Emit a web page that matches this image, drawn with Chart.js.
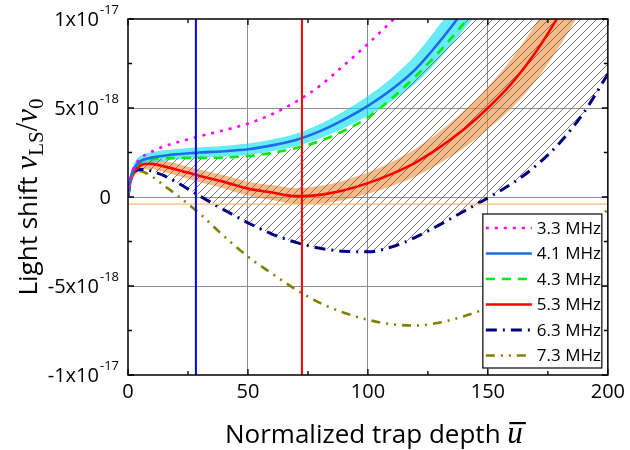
<!DOCTYPE html>
<html>
<head>
<meta charset="utf-8">
<script src="https://cdn.jsdelivr.net/npm/chart.js@4.4.1/dist/chart.umd.min.js"></script>
<style>
  html, body { margin: 0; padding: 0; background: #fff; }
</style>
</head>
<body>
<canvas id="lsChart" width="630" height="450"></canvas>
<script>
// trap depth (u bar) and light shift values in units of 1e-18
const depth   = [0, 1, 2, 3, 5, 7, 10, 15, 20, 30, 40, 50, 60, 70, 80, 90, 100, 110, 120, 130, 140, 150, 160, 170, 180, 190, 200];
const shift33 = [0, 1.0, 1.5, 1.8, 2.15, 2.35, 2.55, 2.85, 3.05, 3.42, 3.75, 4.12, 4.65, 5.35, 6.25, 7.4, 8.6, 9.9, 11.3, null, null, null, null, null, null, null, null];
const shift41 = [0, 1.0, 1.45, 1.7, 2.0, 2.12, 2.22, 2.32, 2.4, 2.5, 2.57, 2.68, 2.9, 3.2, 3.7, 4.35, 5.12, 6.05, 7.2, 8.75, 10.5, 12.4, null, null, null, null, null];
const shift43 = [0, 0.95, 1.4, 1.65, 1.95, 2.05, 2.12, 2.18, 2.2, 2.2, 2.22, 2.3, 2.48, 2.75, 3.15, 3.72, 4.47, 5.55, 6.8, 8.2, 9.75, 11.4, 13.2, 15.1, 17.1, 19.2, 21.4];
const shift53 = [0, 0.85, 1.25, 1.5, 1.75, 1.85, 1.86, 1.72, 1.55, 1.18, 0.85, 0.47, 0.25, 0.05, 0.12, 0.38, 0.78, 1.3, 1.95, 2.8, 3.8, 5.0, 6.4, 8.15, 10.3, 12.8, 15.6];
const shift63 = [0, 0.9, 1.3, 1.45, 1.55, 1.55, 1.45, 1.2, 0.85, 0.05, -0.72, -1.45, -2.08, -2.55, -2.88, -3.05, -3.08, -2.8, -2.25, -1.55, -0.8, -0.05, 0.75, 1.75, 3.05, 4.75, 6.9];
const shift73 = [0, 0.9, 1.25, 1.4, 1.45, 1.38, 1.15, 0.65, 0.15, -0.95, -2.2, -3.35, -4.3, -5.2, -5.95, -6.5, -6.9, -7.15, -7.22, -7.05, -6.7, -6.2, -5.4, -4.4, -3.2, -2.0, -0.7];
// half widths of the uncertainty bands
const band41 = [0.2, 0.25, 0.28, 0.3, 0.3, 0.3, 0.3, 0.3, 0.3, 0.3, 0.3, 0.32, 0.33, 0.35, 0.4, 0.47, 0.55, 0.65, 0.8, 0.95, 1.1, 1.3, null, null, null, null, null];
const band53 = [0.15, 0.2, 0.22, 0.25, 0.28, 0.3, 0.3, 0.32, 0.33, 0.35, 0.37, 0.39, 0.42, 0.45, 0.5, 0.55, 0.6, 0.68, 0.78, 0.9, 1.05, 1.2, 1.4, 1.6, 1.8, 2.0, 2.2];

const seriesLabels = ['3.3 MHz', '4.1 MHz', '4.3 MHz', '5.3 MHz', '6.3 MHz', '7.3 MHz'];
const magicDepths = [28.3, 72.5];
const offsetShift = -0.4;
const xTickVals = [0, 50, 100, 150, 200];
const yTickVals = [-10, -5, 0, 5, 10];
const yTickBase = ['-1x10', '-5x10', '0', '5x10', '1x10'];
const yTickExp  = ['-17', '-18', '', '-18', '-17'];

const pts = arr => depth.map((u, i) => ({ x: u, y: arr[i] }));
const plus = (arr, hw) => arr.map((v, i) => v == null ? null : v + hw[i]);
const minus = (arr, hw) => arr.map((v, i) => v == null ? null : v - hw[i]);

function hatch() {
    const c = document.createElement('canvas');
    c.width = 8; c.height = 8;
    const g = c.getContext('2d');
    g.strokeStyle = '#6a6a6a';
    g.lineWidth = 0.9;
    g.beginPath();
    g.moveTo(0, 8); g.lineTo(8, 0);
    g.moveTo(-2, 2); g.lineTo(2, -2);
    g.moveTo(6, 10); g.lineTo(10, 6);
    g.stroke();
    return g.createPattern(c, 'repeat');
}

const SANS = '"Open Sans", "DejaVu Sans", sans-serif';
const SERIF = '"Liberation Serif", "DejaVu Serif", serif';

const base = { pointRadius: 0, fill: false, cubicInterpolationMode: 'monotone', borderJoinStyle: 'round' };

const datasets = [
    { ...base, label: 'band41hi', data: pts(plus(shift41, band41)), borderWidth: 0, fill: 1, backgroundColor: 'rgba(0, 222, 242, 0.6)', order: 20 },
    { ...base, label: 'band41lo', data: pts(minus(shift41, band41)), borderWidth: 0, order: 20 },
    { ...base, label: 'band53hi', data: pts(plus(shift53, band53)), borderWidth: 0, fill: 3, backgroundColor: 'rgba(244, 140, 50, 0.6)', order: 20 },
    { ...base, label: 'band53lo', data: pts(minus(shift53, band53)), borderWidth: 0, order: 20 },
    { ...base, label: seriesLabels[0], data: pts(shift33), borderColor: '#ff00ff', borderWidth: 2.6, borderDash: [3, 6], order: 2 },
    { ...base, label: seriesLabels[1], data: pts(shift41), borderColor: '#1c6ce8', borderWidth: 2.6, order: 2 },
    { ...base, label: seriesLabels[2], data: pts(shift43), borderColor: '#00ee00', borderWidth: 2.6, borderDash: [9, 7], fill: 8, backgroundColor: hatch(), order: 2 },
    { ...base, label: seriesLabels[3], data: pts(shift53), borderColor: '#ff0000', borderWidth: 2.6, order: 2 },
    { ...base, label: seriesLabels[4], data: pts(shift63), borderColor: '#00007f', borderWidth: 3, borderDash: [11, 6, 2, 6], order: 2 },
    { ...base, label: seriesLabels[5], data: pts(shift73), borderColor: '#808000', borderWidth: 2.6, borderDash: [9, 6, 2, 6, 2, 6], order: 2 },
    { ...base, label: 'magic41', data: [{ x: magicDepths[0], y: -10 }, { x: magicDepths[0], y: 10 }], borderColor: '#0000ff', borderWidth: 2, order: 1 },
    { ...base, label: 'magic53', data: [{ x: magicDepths[1], y: -10 }, { x: magicDepths[1], y: 10 }], borderColor: '#ff0000', borderWidth: 2, order: 1 },
    { ...base, label: 'offset', data: [{ x: 0, y: offsetShift }, { x: 200, y: offsetShift }], borderColor: '#ffb870', borderWidth: 1.2, order: 1 }
];

function drawRuns(ctx, runs, x, y) {
    for (const r of runs) {
        ctx.font = r.font;
        const w = ctx.measureText(r.text).width;
        ctx.fillText(r.text, x, y + (r.dy || 0));
        if (r.over) {
            ctx.fillRect(x + 2, y - 21, w + 1, 2.2);
        }
        x += w;
    }
    return x;
}
function runsWidth(ctx, runs) {
    let w = 0;
    for (const r of runs) { ctx.font = r.font; w += ctx.measureText(r.text).width; }
    return w;
}

const frameAndText = {
    id: 'frameAndText',
    afterDatasetsDraw(chart) {
        const { ctx, chartArea: a, scales } = chart;
        const xs = scales.x, ys = scales.y;
        ctx.save();
        ctx.strokeStyle = '#000';
        ctx.lineWidth = 1.5;
        ctx.strokeRect(a.left, a.top, a.right - a.left, a.bottom - a.top);
        ctx.lineWidth = 1.3;
        ctx.beginPath();
        for (let v = 0; v <= 200; v += 25) {
            const px = xs.getPixelForValue(v);
            const len = v % 50 === 0 ? 6 : 4;
            ctx.moveTo(px, a.bottom); ctx.lineTo(px, a.bottom - len);
            ctx.moveTo(px, a.top); ctx.lineTo(px, a.top + len);
        }
        for (let v = -10; v <= 10; v += 2.5) {
            const py = ys.getPixelForValue(v);
            const len = v % 5 === 0 ? 6 : 4;
            ctx.moveTo(a.left, py); ctx.lineTo(a.left + len, py);
            ctx.moveTo(a.right, py); ctx.lineTo(a.right - len, py);
        }
        ctx.stroke();
        ctx.restore();
    },
    afterDraw(chart) {
        const { ctx, chartArea: a, scales } = chart;
        ctx.save();
        ctx.fillStyle = '#000';
        // y tick labels with exponents
        ctx.textBaseline = 'middle';
        yTickVals.forEach((v, i) => {
            const py = scales.y.getPixelForValue(v);
            let right = a.left - 9;
            if (yTickExp[i]) {
                ctx.font = '13px ' + SANS;
                const ew = ctx.measureText(yTickExp[i]).width;
                ctx.textAlign = 'left';
                ctx.fillText(yTickExp[i], right - ew, py - 9);
                right -= ew + 1;
            } else {
                right = a.left - 17;
            }
            ctx.font = '20px ' + SANS;
            ctx.textAlign = 'right';
            ctx.fillText(yTickBase[i], right, py + 1);
        });
        // axis titles
        ctx.textAlign = 'left';
        ctx.textBaseline = 'alphabetic';
        const xRuns = [
            { text: 'Normalized trap depth ', font: '26px ' + SANS },
            { text: 'u', font: 'italic 31px ' + SERIF, over: true }
        ];
        const xw = runsWidth(ctx, xRuns);
        drawRuns(ctx, xRuns, (a.left + a.right) / 2 + 6 - xw / 2, 443);
        const yRuns = [
            { text: 'Light shift ', font: '26px ' + SANS },
            { text: 'ν', font: 'italic 31px ' + SERIF },
            { text: 'LS', font: '21px ' + SERIF, dy: 6 },
            { text: '/', font: '31px ' + SERIF },
            { text: 'ν', font: 'italic 31px ' + SERIF },
            { text: '0', font: '21px ' + SERIF, dy: 6 }
        ];
        const yw = runsWidth(ctx, yRuns);
        ctx.translate(37, (a.top + a.bottom) / 2);
        ctx.rotate(-Math.PI / 2);
        drawRuns(ctx, yRuns, -yw / 2, 0);
        ctx.restore();

        // legend box
        const lw = 119, lh = 154;
        const lx = a.right - 6 - lw, ly = a.bottom - 7 - lh;
        ctx.save();
        ctx.fillStyle = '#fff';
        ctx.fillRect(lx, ly, lw, lh);
        ctx.strokeStyle = '#000';
        ctx.lineWidth = 1.2;
        ctx.strokeRect(lx, ly, lw, lh);
        ctx.font = '17px ' + SANS;
        ctx.textBaseline = 'middle';
        ctx.fillStyle = '#000';
        seriesLabels.forEach((lab, i) => {
            const ds = chart.data.datasets.find(d => d.label === lab);
            const cy = ly + 14 + i * 25.5;
            ctx.strokeStyle = ds.borderColor;
            ctx.lineWidth = ds.borderWidth;
            ctx.setLineDash(ds.borderDash || []);
            ctx.beginPath();
            ctx.moveTo(lx + 3, cy);
            ctx.lineTo(lx + 49, cy);
            ctx.stroke();
            ctx.setLineDash([]);
            ctx.fillText(lab, lx + 54, cy + 1);
        });
        ctx.restore();
    }
};

const ctx = document.getElementById('lsChart').getContext('2d');
const lsChart = new Chart(ctx, {
    type: 'line',
    data: { datasets: datasets },
    options: {
        responsive: false,
        animation: false,
        devicePixelRatio: 1,
        events: [],
        layout: { padding: { top: 19, right: 21, left: 0, bottom: 0 } },
        scales: {
            x: {
                type: 'linear',
                min: 0,
                max: 200,
                afterFit: s => { s.height = 75; },
                afterBuildTicks: s => { s.ticks = xTickVals.map(v => ({ value: v })); },
                border: { display: false },
                grid: {
                    drawTicks: false,
                    color: c => (c.tick && c.tick.value > 0 && c.tick.value < 200) ? '#8e8e8e' : 'rgba(0,0,0,0)',
                    lineWidth: 1
                },
                ticks: { color: '#000', padding: 5, maxRotation: 0, font: { family: SANS, size: 20 } }
            },
            y: {
                type: 'linear',
                min: -10,
                max: 10,
                afterFit: s => { s.width = 128; },
                afterBuildTicks: s => { s.ticks = yTickVals.map(v => ({ value: v })); },
                border: { display: false },
                grid: {
                    drawTicks: false,
                    color: c => (c.tick && c.tick.value > -10 && c.tick.value < 10) ? '#8e8e8e' : 'rgba(0,0,0,0)',
                    lineWidth: 1
                },
                ticks: { display: false }
            }
        },
        plugins: {
            legend: { display: false },
            tooltip: { enabled: false },
            filler: { drawTime: 'beforeDatasetsDraw' }
        }
    },
    plugins: [frameAndText]
});
</script>
</body>
</html>
